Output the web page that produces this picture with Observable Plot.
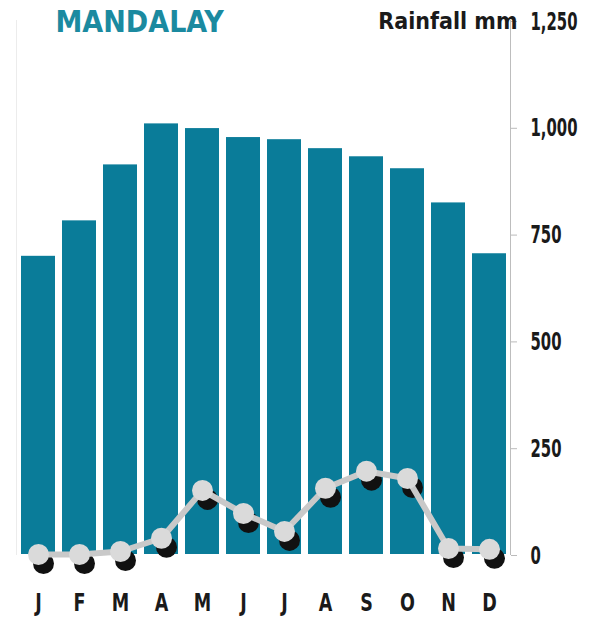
<!DOCTYPE html>
<html><head><meta charset="utf-8">
<script src="https://cdn.jsdelivr.net/npm/d3@7"></script>
<script src="https://cdn.jsdelivr.net/npm/@observablehq/plot@0.6"></script>
<style>body{margin:0;background:#fff}</style>
</head><body><div id="chart"></div>
<script>
const months = ["Jan","Feb","Mar","Apr","May","Jun","Jul","Aug","Sep","Oct","Nov","Dec"];
const monthLabels = ["J","F","M","A","M","J","J","A","S","O","N","D"];
const barValues = [698,781,912,1008,997,976,971,950,931,903,823,704];
const rainfall = [0,0,7,38,150,96,54,155,195,178,14,12];
const yTicks = [0,250,500,750,1000,1250];
const title = "MANDALAY";
const unitLabel = "Rainfall mm";

const data = months.map((m, i) => ({month: m, bar: barValues[i], rain: rainfall[i]}));
const font = '"Liberation Sans Narrow","DejaVu Sans Condensed","Roboto",sans-serif';

const chart = Plot.plot({
  width: 596, height: 618,
  marginLeft: 16, marginRight: 86, marginTop: 20, marginBottom: 64,
  style: {fontFamily: font, background: "#fff"},
  x: {domain: months, paddingInner: 0.175, paddingOuter: 0.08, axis: null},
  y: {domain: [0, 1250], axis: null},
  marks: [
    Plot.frame({anchor: "left", stroke: "#ececec"}),
    Plot.frame({anchor: "right", stroke: "#bdbdbd"}),
    Plot.barY(data, {x: "month", y: "bar", fill: "#0a7c99"}),
    Plot.axisY({anchor: "right", ticks: yTicks, tickSize: 6, tickPadding: 14, dy: 1,
      tickFormat: d3.format(","), fontSize: 25, fontWeight: "bold", stroke: "#bbb", fill: "#1a1a1a"}),
    Plot.axisX({anchor: "bottom", tickSize: 0, tickPadding: 39, label: null,
      tickFormat: d => monthLabels[months.indexOf(d)], fontSize: 25, fontWeight: "bold", fill: "#1a1a1a"}),
    Plot.dot(data, {x: "month", y: "rain", r: 10.5, fill: "#111", dx: 5, dy: 9}),
    Plot.lineY(data, {x: "month", y: "rain", stroke: "#c9c9c9", strokeWidth: 6}),
    Plot.dot(data, {x: "month", y: "rain", r: 10.5, fill: "#dadada"}),
    Plot.text([title], {ariaLabel: "title", frameAnchor: "top-left", dx: 39, dy: 2, fontSize: 30,
      fontWeight: "bold", fill: "#1b8aa0", textAnchor: "start", lineAnchor: "middle"}),
    Plot.text([unitLabel], {ariaLabel: "unit", frameAnchor: "top-right", dx: 7, dy: 1, fontSize: 23,
      fontWeight: "bold", fill: "#1a1a1a", textAnchor: "end", lineAnchor: "middle"})
  ]
});
document.getElementById("chart").append(chart);

// condense glyphs horizontally (about each text's anchor) to mimic the narrow typeface
function squeeze(t, f) {
  const ax = +(t.getAttribute("x") || 0);
  const tr = t.getAttribute("transform") || "";
  t.setAttribute("transform", `${tr} translate(${ax},0) scale(${f},1) translate(${-ax},0)`);
}
const yLabels = chart.querySelectorAll('g[aria-label="y-axis tick label"] text');
let ref = null;
yLabels.forEach(t => { if (t.textContent === "1,250") ref = t; });
const fy = ref ? 47 / ref.getComputedTextLength() : 0.72;
yLabels.forEach(t => squeeze(t, fy));
chart.querySelectorAll('g[aria-label="x-axis tick label"] text').forEach(t => squeeze(t, 0.78));
chart.querySelectorAll('g[aria-label="title"] text').forEach(t => squeeze(t, 160 / t.getComputedTextLength()));
chart.querySelectorAll('g[aria-label="unit"] text').forEach(t => squeeze(t, 94 / t.getComputedTextLength()));
</script>
</body></html>
